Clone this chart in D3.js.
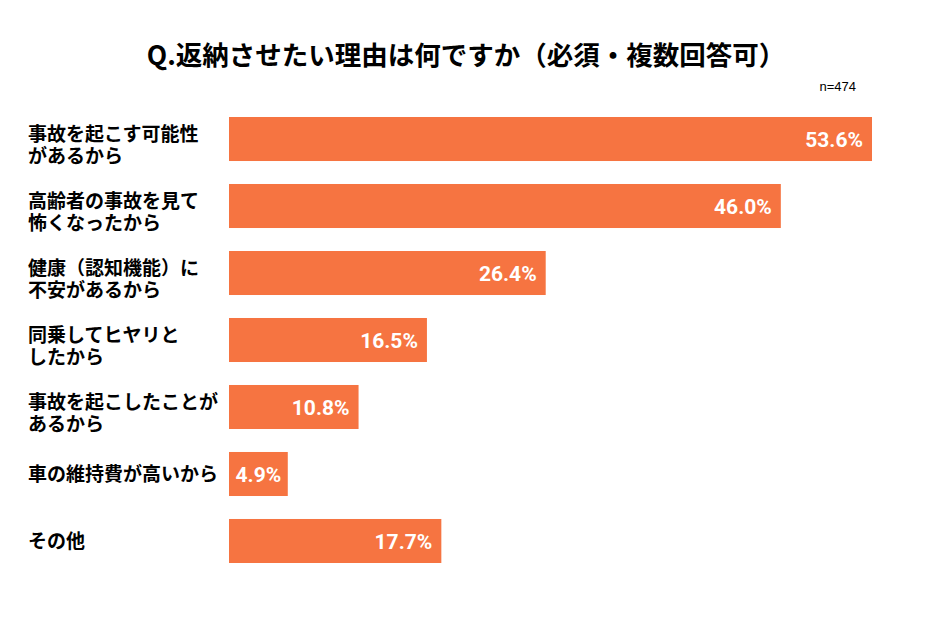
<!DOCTYPE html>
<html>
<head>
<meta charset="utf-8">
<script src="https://cdn.jsdelivr.net/npm/d3@7"></script>
<style>
  body { margin: 0; background: #fff; }
</style>
</head>
<body>
<svg id="chart" width="934" height="623"></svg>
<script>
var titleText = "Q.返納させたい理由は何ですか（必須・複数回答可）";
var sampleText = "n=474";
var categories = [
  "事故を起こす可能性\nがあるから",
  "高齢者の事故を見て\n怖くなったから",
  "健康（認知機能）に\n不安があるから",
  "同乗してヒヤリと\nしたから",
  "事故を起こしたことが\nあるから",
  "車の維持費が高いから",
  "その他"
];
var values = [53.6, 46.0, 26.4, 16.5, 10.8, 4.9, 17.7];

var svg = d3.select("#chart"),
    jp = "'Noto Sans CJK JP', sans-serif",
    barColor = "#F67441";

var data = categories.map(function(c, i) { return {label: c, value: values[i]}; });

var x = d3.scaleLinear()
    .domain([0, d3.max(values)])
    .range([229, 872]);

var y = d3.scaleBand()
    .domain(categories)
    .range([117, 563])
    .paddingInner(0.343)
    .paddingOuter(0);

/* title */
svg.append("text")
    .attr("x", 466)
    .attr("y", 65)
    .attr("text-anchor", "middle")
    .style("font-family", jp)
    .style("font-weight", "bold")
    .style("font-size", "26.5px")
    .attr("fill", "#000")
    .text(titleText);

svg.append("text")
    .attr("x", 856)
    .attr("y", 91)
    .attr("text-anchor", "end")
    .style("font-family", "'Liberation Sans', Arial, sans-serif")
    .style("font-size", "13px")
    .attr("fill", "#000")
    .text(sampleText);

/* bars */
var row = svg.selectAll(".row")
    .data(data)
  .enter().append("g")
    .attr("class", "row");

row.append("rect")
    .attr("x", x(0))
    .attr("y", function(d) { return y(d.label); })
    .attr("width", function(d) { return x(d.value) - x(0); })
    .attr("height", y.bandwidth())
    .attr("fill", barColor);

/* value labels */
row.append("text")
    .attr("x", function(d) {
      var w = x(d.value) - x(0);
      return w < 70 ? x(0) + w / 2 : x(d.value) - 9;
    })
    .attr("y", function(d) { return y(d.label) + y.bandwidth() / 2; })
    .attr("dy", "0.36em")
    .attr("text-anchor", function(d) { return x(d.value) - x(0) < 70 ? "middle" : "end"; })
    .style("font-family", "Roboto, sans-serif")
    .style("font-weight", "bold")
    .style("font-size", "21px")
    .attr("fill", "#fff")
    .text(function(d) { return d.value.toFixed(1) + "%"; });

/* category labels (two lines in one text) */
row.append("text")
    .style("font-family", jp)
    .style("font-weight", "bold")
    .style("font-size", "19px")
    .attr("fill", "#000")
    .each(function(d) {
      var t = d3.select(this),
          lines = d.label.split("\n"),
          cy = y(d.label) + y.bandwidth() / 2;
      lines.forEach(function(l, i) {
        var off = lines.length == 1 ? 0 : (i == 0 ? -5 : 17);
        t.append("tspan")
          .attr("x", 28)
          .attr("y", cy + off)
          .attr("dy", "0.35em")
          .text(l);
      });
    });
</script>
</body>
</html>
